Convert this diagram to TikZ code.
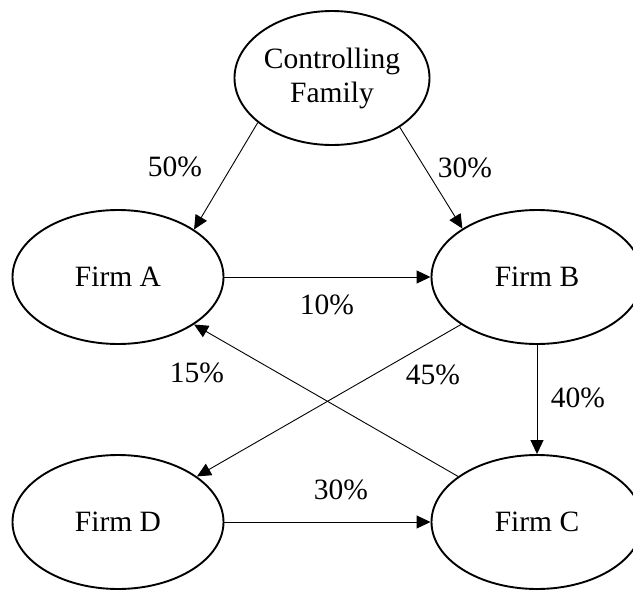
\documentclass[tikz,border=0pt]{standalone}
\usepackage{fontspec}
\setmainfont{Liberation Serif}
\usetikzlibrary{shapes.geometric,arrows.meta}
\begin{document}
\begin{tikzpicture}[x=1pt,y=1pt,
  firm/.style={ellipse,draw,line width=1.9pt,inner sep=0pt,
    minimum width=211pt,minimum height=134pt,align=center,
    font=\fontsize{29.5}{34}\selectfont},
  conn/.style={line width=0.9pt,-{Triangle[length=14pt,width=13pt]}},
  pct/.style={font=\fontsize{29.5}{34}\selectfont,inner sep=0pt}]
\useasboundingbox (0,0) rectangle (633,-590);
\node[firm,minimum width=195pt] (cf) at (332,-78) {Controlling\\Family};
\node[firm] (fa) at (118,-277) {Firm A};
\node[firm] (fb) at (537,-277) {Firm B};
\node[firm] (fd) at (118,-522) {Firm D};
\node[firm] (fc) at (537,-522) {Firm C};
\draw[conn] (cf.211) -- (fa.32);
\draw[conn] (cf.324) -- (fb.147);
\draw[conn] (fa.east) -- (fb.west);
\draw[conn] (fb.south) -- (fc.north);
\draw[conn] (fd.east) -- (fc.west);
\draw[conn] (fb.212) -- (fd.30);
\draw[conn] (fc.150) -- (fa.328);
\node[pct] (l1) at (175,-167) {50\%};
\node[pct] (l2) at (465,-168) {30\%};
\node[pct] (l3) at (327,-305) {10\%};
\node[pct] (l4) at (197,-373) {15\%};
\node[pct] (l5) at (433,-375) {45\%};
\node[pct] (l6) at (578,-398) {40\%};
\node[pct] (l7) at (341,-490) {30\%};
\end{tikzpicture}
\end{document}
